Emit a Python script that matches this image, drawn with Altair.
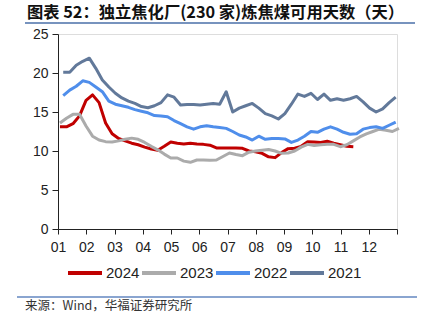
import altair as alt
import pandas as pd

# ---------------- data (weekly readings, days of coking coal available) ----------------
series_names = ["2024", "2023", "2022", "2021"]
series_colors = ["#C00000", "#ABABAB", "#4F8EEB", "#62799A"]

# first observation's week index within the year
start_week = {"2024": 0.3, "2023": 0.3, "2022": 0.8, "2021": 0.8}

v2024 = [13.1, 13.1, 13.5, 14.5, 16.5, 17.2, 16.2, 13.6, 12.2, 11.6, 11.3, 11.0, 10.8, 10.5,
         10.25, 10.1, 10.6, 11.15, 11.0, 10.9, 11.0, 10.9, 10.85, 10.75, 10.4, 10.4, 10.4, 10.4,
         10.35, 10.0, 9.9, 9.7, 9.25, 9.15, 9.8, 10.3, 10.35, 10.6, 11.2, 11.15, 11.1, 11.25,
         11.0, 10.8, 10.6, 10.55]
v2023 = [13.6, 14.2, 14.7, 14.7, 13.2, 11.9, 11.4, 11.2, 11.15, 11.3, 11.5, 11.65, 11.5, 11.1,
         10.6, 10.15, 9.6, 9.1, 9.1, 8.7, 8.55, 8.85, 8.85, 8.8, 8.85, 9.3, 9.75, 9.55, 9.4,
         9.85, 10.0, 10.1, 10.2, 10.0, 9.7, 9.75, 10.0, 10.5, 10.85, 10.7, 10.8, 10.85, 10.85,
         10.55, 10.8, 11.3, 11.8, 12.2, 12.5, 12.8, 12.65, 12.5, 12.9]
v2022 = [17.1, 17.8, 18.3, 19.0, 18.8, 18.2, 17.6, 16.4, 16.0, 15.8, 15.6, 15.3, 15.1, 14.9,
         14.55, 14.5, 14.4, 13.9, 13.5, 13.1, 12.8, 13.1, 13.25, 13.1, 13.0, 12.9, 12.5, 12.05,
         11.8, 11.4, 11.9, 11.5, 11.6, 11.6, 11.55, 11.1, 11.4, 11.9, 12.5, 12.4, 12.8, 13.1,
         12.8, 12.4, 12.15, 12.2, 12.8, 13.0, 13.1, 12.9, 13.3, 13.7]
v2021 = [20.1, 20.1, 21.0, 21.5, 21.9, 20.6, 19.1, 18.2, 17.4, 16.8, 16.4, 16.1, 15.7, 15.55,
         15.8, 16.2, 17.2, 16.9, 15.9, 15.95, 15.95, 15.9, 16.0, 16.1, 16.0, 17.6, 15.0, 15.5,
         15.8, 16.1, 15.5, 14.8, 14.5, 14.1, 14.8, 16.0, 17.3, 17.0, 17.4, 16.6, 17.3, 16.5,
         16.7, 16.5, 16.7, 17.0, 16.3, 15.5, 15.0, 15.4, 16.2, 16.9]

month_labels = ["01", "02", "03", "04", "05", "06", "07", "08", "09", "10", "11", "12"]

title_text = "图表 52：独立焦化厂(230 家)炼焦煤可用天数（天）"
source_text = "来源：Wind，华福证券研究所"

# ---------------- build table ----------------
rows = []
for name, vals in zip(series_names, [v2024, v2023, v2022, v2021]):
    for i, v in enumerate(vals):
        rows.append({"series": name, "month": (start_week[name] + i) * 12 / 52, "value": v,
                     "order": series_names.index(name)})
df = pd.DataFrame(rows)

W, H = 339, 195
num_font = "Liberation Sans"
label_expr = "datum.value < 12 ? (['" + "','".join(month_labels) + "'])[datum.value] : ''"

lines = alt.Chart(df).mark_line(strokeWidth=3, strokeJoin="round").encode(
    x=alt.X("month:Q",
            scale=alt.Scale(domain=[0, 12], nice=False, zero=False),
            axis=alt.Axis(values=list(range(13)), labelExpr=label_expr, title=None,
                          grid=False, tickSize=5, labelPadding=6, labelFont=num_font,
                          labelFontSize=14, labelColor="#222222", domainColor="#222222",
                          tickColor="#222222", labelFlush=False)),
    y=alt.Y("value:Q",
            scale=alt.Scale(domain=[0, 25], nice=False),
            axis=alt.Axis(values=[0, 5, 10, 15, 20, 25], title=None, grid=False,
                          tickSize=6, labelPadding=4, labelFont=num_font, labelFontSize=14,
                          labelColor="#222222", domainColor="#222222", tickColor="#222222")),
    color=alt.Color("series:N",
                    scale=alt.Scale(domain=series_names, range=series_colors),
                    legend=alt.Legend(orient="none", legendX=8, legendY=220,
                                      direction="horizontal", title=None,
                                      symbolType="stroke", symbolSize=1156,
                                      symbolStrokeWidth=4, labelFont=num_font,
                                      labelFontSize=15, labelColor="#222222",
                                      labelOffset=2, columnPadding=-17)),
    order=alt.Order("order:Q", sort="descending"),
    detail="series:N",
)

title = alt.Chart(pd.DataFrame({"t": [title_text]})).mark_text(
    align="left", baseline="middle", font="Noto Sans CJK SC", fontSize=16.3,
    fontWeight="bold", color="#111111"
).encode(x=alt.value(-31), y=alt.value(-21), text="t:N")

title_rule = alt.Chart(pd.DataFrame({"a": [0]})).mark_rule(
    color="#4A6FA8", strokeWidth=1.5
).encode(x=alt.value(-33), x2=alt.value(357), y=alt.value(-11))

source_rule = alt.Chart(pd.DataFrame({"a": [0]})).mark_rule(
    color="#8AA5D0", strokeWidth=2
).encode(x=alt.value(-41), x2=alt.value(359), y=alt.value(263))

source = alt.Chart(pd.DataFrame({"t": [source_text]})).mark_text(
    align="left", baseline="middle", font="Noto Sans CJK SC", fontSize=12.5,
    color="#333333"
).encode(x=alt.value(-33), y=alt.value(271.5), text="t:N")

chart = alt.layer(lines, title, title_rule, source_rule, source).properties(
    width=W, height=H,
    autosize=alt.AutoSizeParams(type="none"),
    padding={"left": 58, "top": 34, "right": 28, "bottom": 101},
).configure_view(stroke=None).configure(background="white")

chart.save("out.html", embed_options={"renderer": "svg", "actions": False})
